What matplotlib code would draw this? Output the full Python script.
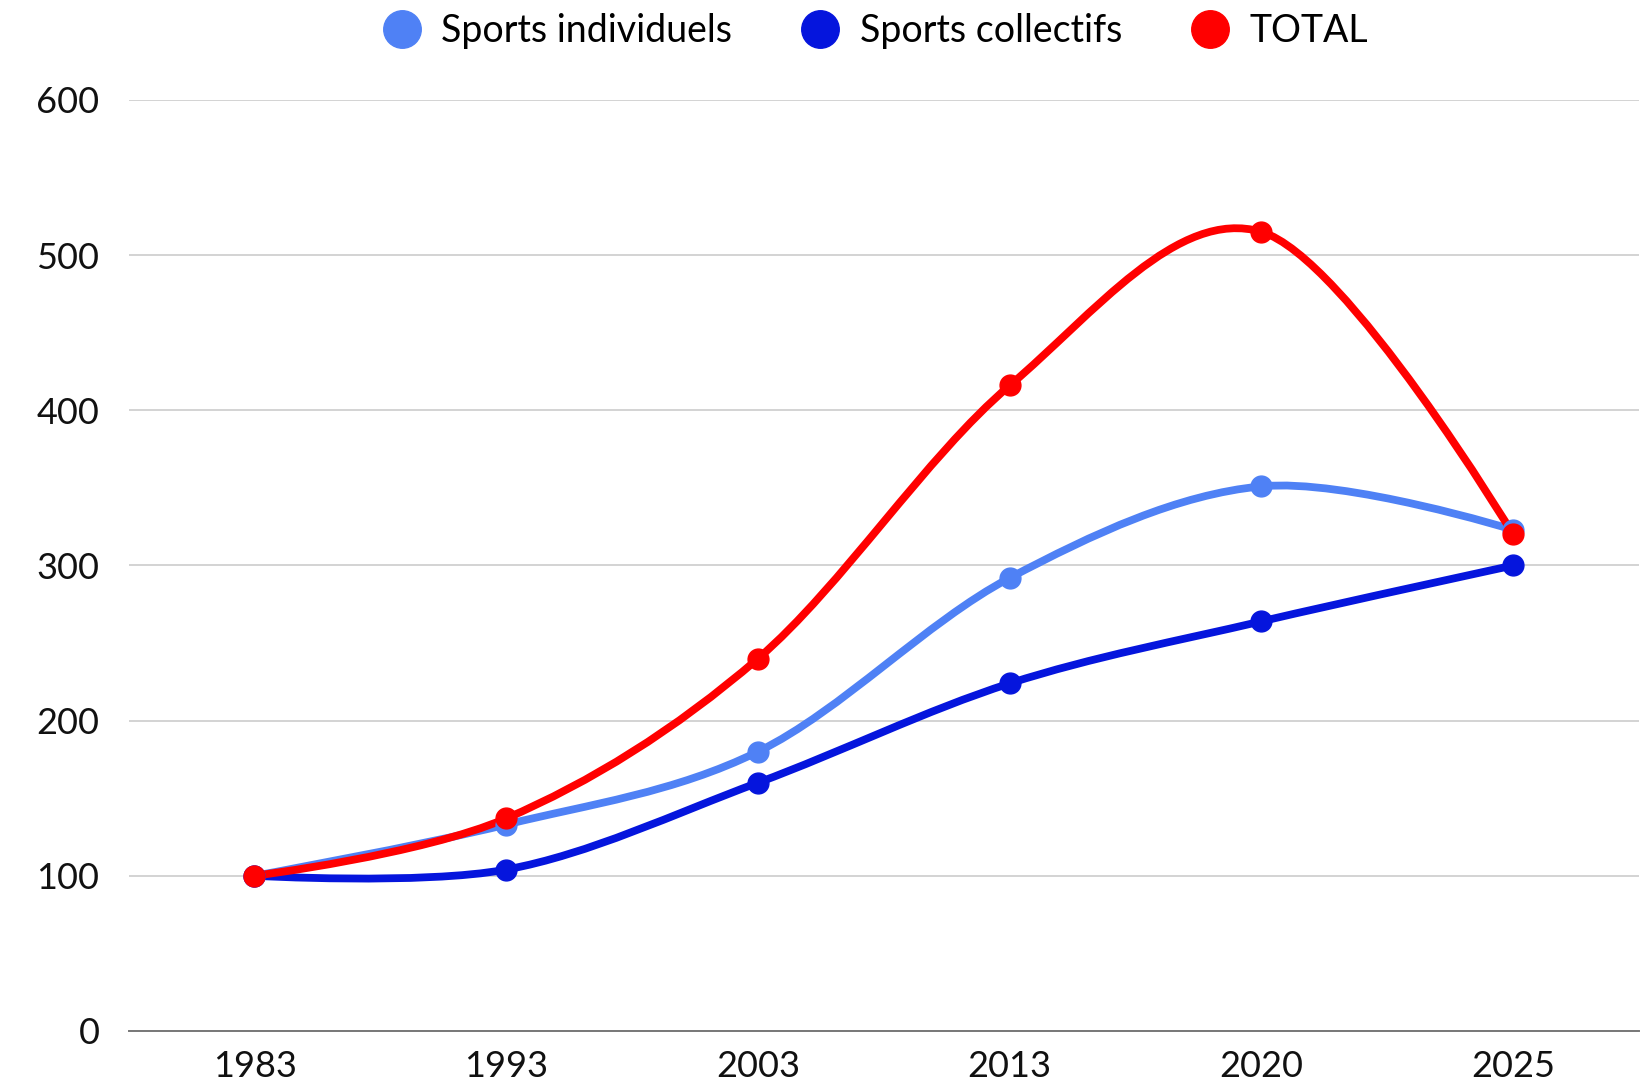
import numpy as np
import matplotlib
matplotlib.use("Agg")
import matplotlib.pyplot as plt
from matplotlib.path import Path
from matplotlib.patches import PathPatch
from matplotlib.lines import Line2D

plt.rcParams['font.family'] = ['Lato', 'DejaVu Sans']

# data
years = ["1983", "1993", "2003", "2013", "2020", "2025"]
individuels = [100, 133, 180, 292, 351, 323]
collectifs = [100, 104, 160, 224, 264, 300]
total = [100, 137, 240, 416, 515, 320]

series = [
    ("Sports individuels", individuels, "#4F81F5"),
    ("Sports collectifs", collectifs, "#0515DD"),
    ("TOTAL", total, "#FF0000"),
]


def smooth_path(x, y, t=1.0 / 6):
    # cubic bezier through the points (catmull-rom style tangents, flat at the ends)
    pts = np.column_stack([x, y]).astype(float)
    n = len(pts)
    verts = [pts[0]]
    codes = [Path.MOVETO]
    for i in range(n - 1):
        p0 = pts[i - 1] if i > 0 else pts[i]
        p3 = pts[i + 2] if i + 2 < n else pts[i + 1]
        c1 = pts[i] + (pts[i + 1] - p0) * t if i > 0 else pts[i]
        c2 = pts[i + 1] - (p3 - pts[i]) * t if i + 2 < n else pts[i + 1]
        verts += [c1, c2, pts[i + 1]]
        codes += [Path.CURVE4] * 3
    return Path(verts, codes)


fig = plt.figure(figsize=(16.49, 10.81), dpi=100)
ax = fig.add_axes([0.078, 0.0463, 0.916, 0.8612])

x = np.arange(len(years))
handles = []
for label, vals, color in series:
    ax.add_patch(PathPatch(smooth_path(x, vals), facecolor="none", edgecolor=color,
                           lw=5.6, capstyle="round", joinstyle="round", zorder=3))
    ax.plot(x, vals, "o", color=color, markersize=15, zorder=4)
    handles.append(Line2D([], [], marker="o", linestyle="none", color=color,
                          markersize=27, label=label))

ax.set_xlim(-0.5, 5.5)
ax.set_ylim(0, 600)
ax.set_xticks(x)
ax.set_xticklabels(years)
ax.set_yticks(range(0, 601, 100))
ax.tick_params(axis="both", length=0, labelsize=26, colors="#111111")
ax.tick_params(axis="y", pad=21)
ax.tick_params(axis="x", pad=14)
ax.yaxis.grid(True, color="#cccccc", lw=1.2)
ax.set_axisbelow(True)
for s in ["top", "right", "left"]:
    ax.spines[s].set_visible(False)
ax.spines["bottom"].set_color("#777777")
ax.spines["bottom"].set_linewidth(1.4)

fig.legend(handles=handles, loc="center", bbox_to_anchor=(0.531, 0.971), ncol=3,
           frameon=False, fontsize=27, handletextpad=0.55, columnspacing=1.85,
           handlelength=1.0)

fig.savefig("out.png", dpi=100, facecolor="white")
